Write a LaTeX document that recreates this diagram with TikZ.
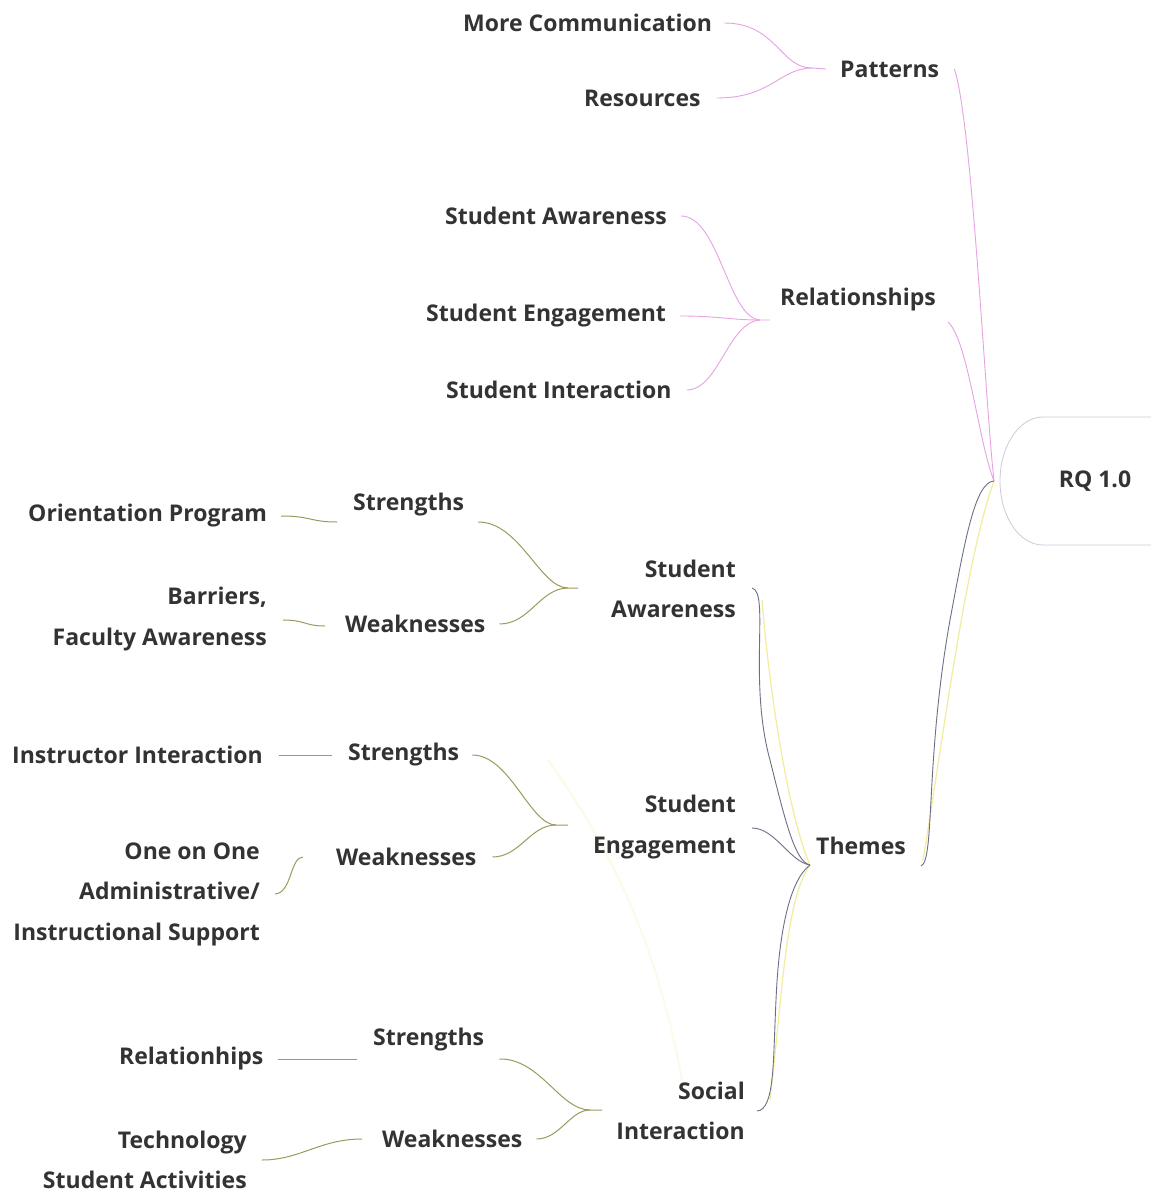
\documentclass[tikz,border=0pt]{standalone}
\usepackage{fontspec}
\setmainfont{Open Sans}
\definecolor{txt}{HTML}{333333}
\definecolor{pinkl}{HTML}{E7A2E3}
\definecolor{olive}{HTML}{9C9A5C}
\definecolor{darkl}{HTML}{6E6E86}
\definecolor{yell}{HTML}{F2EC9C}
\definecolor{faint}{HTML}{FCFAE8}
\definecolor{boxc}{HTML}{CFC8DC}
\begin{document}
\begin{tikzpicture}[x=1pt,y=-1pt,
  lbl/.style={font=\fontsize{23}{40.5}\selectfont\bfseries, text=txt, inner sep=0pt},
  lw/.style={lbl, anchor=west},
  le/.style={lbl, anchor=east, align=right},
  pk/.style={draw=pinkl, line width=0.9pt},
  ol/.style={draw=olive, line width=1pt},
  dk/.style={draw=darkl, line width=0.9pt},
  yl/.style={draw=yell, line width=1.2pt}]
\useasboundingbox (0,0) rectangle (1151,1194);
\fill[white] (0,0) rectangle (1151,1194);

% faint artifact
\draw[faint, line width=2pt] (548,760) .. controls (620,860) and (660,960) .. (682,1080);

% RQ box
\draw[boxc, line width=0.8pt] (1151,417) -- (1043,417) arc[start angle=270, end angle=90, x radius=43, y radius=64] -- (1151,545);
\node[lbl] (rq) at (1095,481) {RQ 1.0};
\coordinate (rqj) at (994,481);

% top nodes
\node[lw] (mc) at (463,23) {More Communication};
\node[lw] (res) at (584,98) {Resources};
\node[lw] (pat) at (840,69) {Patterns};
\node[lw] (sa0) at (445,216) {Student Awareness};
\node[lw] (se0) at (426,316) {Student Engagement};
\node[lw] (si0) at (446,390) {Student Interaction};
\node[lw] (rel) at (780,300) {Relationships};

\coordinate (pj) at (812,68);
\coordinate (rj) at (760,320);

\draw[pk] ([xshift=12pt]mc.east) .. controls +(52,0) and (780,68) .. (pj) -- ([xshift=-14pt]pat.west);
\draw[pk] ([xshift=16pt]res.east) .. controls +(55,0) and (780,68) .. (pj);
\draw[pk] ([xshift=14pt]sa0.east) .. controls +(38,0) and (728,318) .. (rj) -- ([xshift=-10pt]rel.west |- rj);
\draw[pk] ([xshift=14pt]se0.east) .. controls +(40,0) and (730,320) .. (rj);
\draw[pk] ([xshift=15pt]si0.east) .. controls +(32,0) and (728,322) .. (rj);
\draw[pk] ([xshift=15pt]pat.east) .. controls (972,120) and (985,400) .. (rqj);
\draw[pk] (948,322) .. controls (968,340) and (978,440) .. (rqj);

% lower nodes
\node[lw] (op) at (28,516) {Orientation Program};
\node[lw] (st1) at (353,505) {Strengths};
\node[le] (bf) at (267,619) {Barriers,\\Faculty Awareness};
\node[lw] (wk1) at (345,624) {Weaknesses};
\node[le] (saw) at (736,589) {Student\\Awareness};

\node[lw] (ii) at (12,755) {Instructor Interaction};
\node[lw] (st2) at (348,755) {Strengths};
\node[le] (oo) at (260,894) {One on One\\Administrative/\\Instructional Support};
\node[lw] (wk2) at (336,857) {Weaknesses};
\node[le] (sen) at (736,827) {Student\\Engagement};

\node[lw] (rh) at (119,1059) {Relationhips};
\node[lw] (st3) at (373,1040) {Strengths};
\node[le] (tsa) at (247,1160) {Technology\\Student Activities};
\node[lw] (wk3) at (382,1139) {Weaknesses};
\node[le] (sin) at (745,1111) {Social\\Interaction};

\node[lw] (th) at (816,846) {Themes};

\coordinate (j1) at (568,588);
\coordinate (j2) at (556,825);
\coordinate (j3) at (590,1110);
\coordinate (tj) at (810,865);

% olive connectors
\draw[ol] ([xshift=14pt]op.east) .. controls +(30,0) and (310,522) .. ([xshift=-16pt]st1.west |- 0,522);
\draw[ol] ([xshift=14pt]st1.east |- 0,522) .. controls (520,522) and (540,588) .. (j1) -- ([xshift=-33pt]saw.west |- j1);
\draw[ol] ([xshift=14pt]wk1.east) .. controls (530,624) and (540,588) .. (j1);
\draw[ol] (283,620) .. controls (305,620) and (305,626) .. ([xshift=-20pt]wk1.west |- 0,626);

\draw[ol] ([xshift=16pt]ii.east) -- ([xshift=-16pt]st2.west);
\draw[ol] ([xshift=13pt]st2.east) .. controls (510,755) and (530,825) .. (j2) -- (568,825);
\draw[ol] ([xshift=16pt]wk2.east) .. controls (520,857) and (530,825) .. (j2);
\draw[ol] ([xshift=-33pt]wk2.west) .. controls (290,857) and (292,893) .. ([xshift=15pt]oo.east);

\draw[ol] ([xshift=14pt]rh.east) -- ([xshift=-16pt]st3.west |- rh.east);
\draw[ol] ([xshift=15pt]st3.east |- rh.east) .. controls (540,1058) and (560,1110) .. (j3) -- (602,1110);
\draw[ol] ([xshift=14pt]wk3.east) .. controls (560,1139) and (570,1110) .. (j3);
\draw[ol] ([xshift=-20pt]wk3.west) .. controls (320,1139) and (300,1160) .. ([xshift=15pt]tsa.east);

% theme connectors (yellow underlay, dark line)
\draw[yl] (762,600) .. controls (770,700) and (790,820) .. (tj);
\draw[yl] (770,1100) .. controls (782,1000) and (785,900) .. (tj);
\draw[yl] (923,860) .. controls (940,760) and (965,560) .. (rqj);

\draw[dk] ([xshift=16pt]saw.east |- 0,588) .. controls (770,592) and (748,680) .. (770,760) .. controls (785,820) and (795,862) .. (tj);
\draw[dk] ([xshift=16pt]sen.east |- 0,828) .. controls (775,828) and (790,862) .. (tj);
\draw[dk] ([xshift=12pt]sin.east) .. controls (775,1110) and (773,1060) .. (776,1000) .. controls (779,930) and (790,880) .. (tj);
\draw[dk] ([xshift=15pt]th.east |- 0,866) .. controls (935,860) and (925,760) .. (950,620) .. controls (965,540) and (975,482) .. (rqj);
\end{tikzpicture}
\end{document}
